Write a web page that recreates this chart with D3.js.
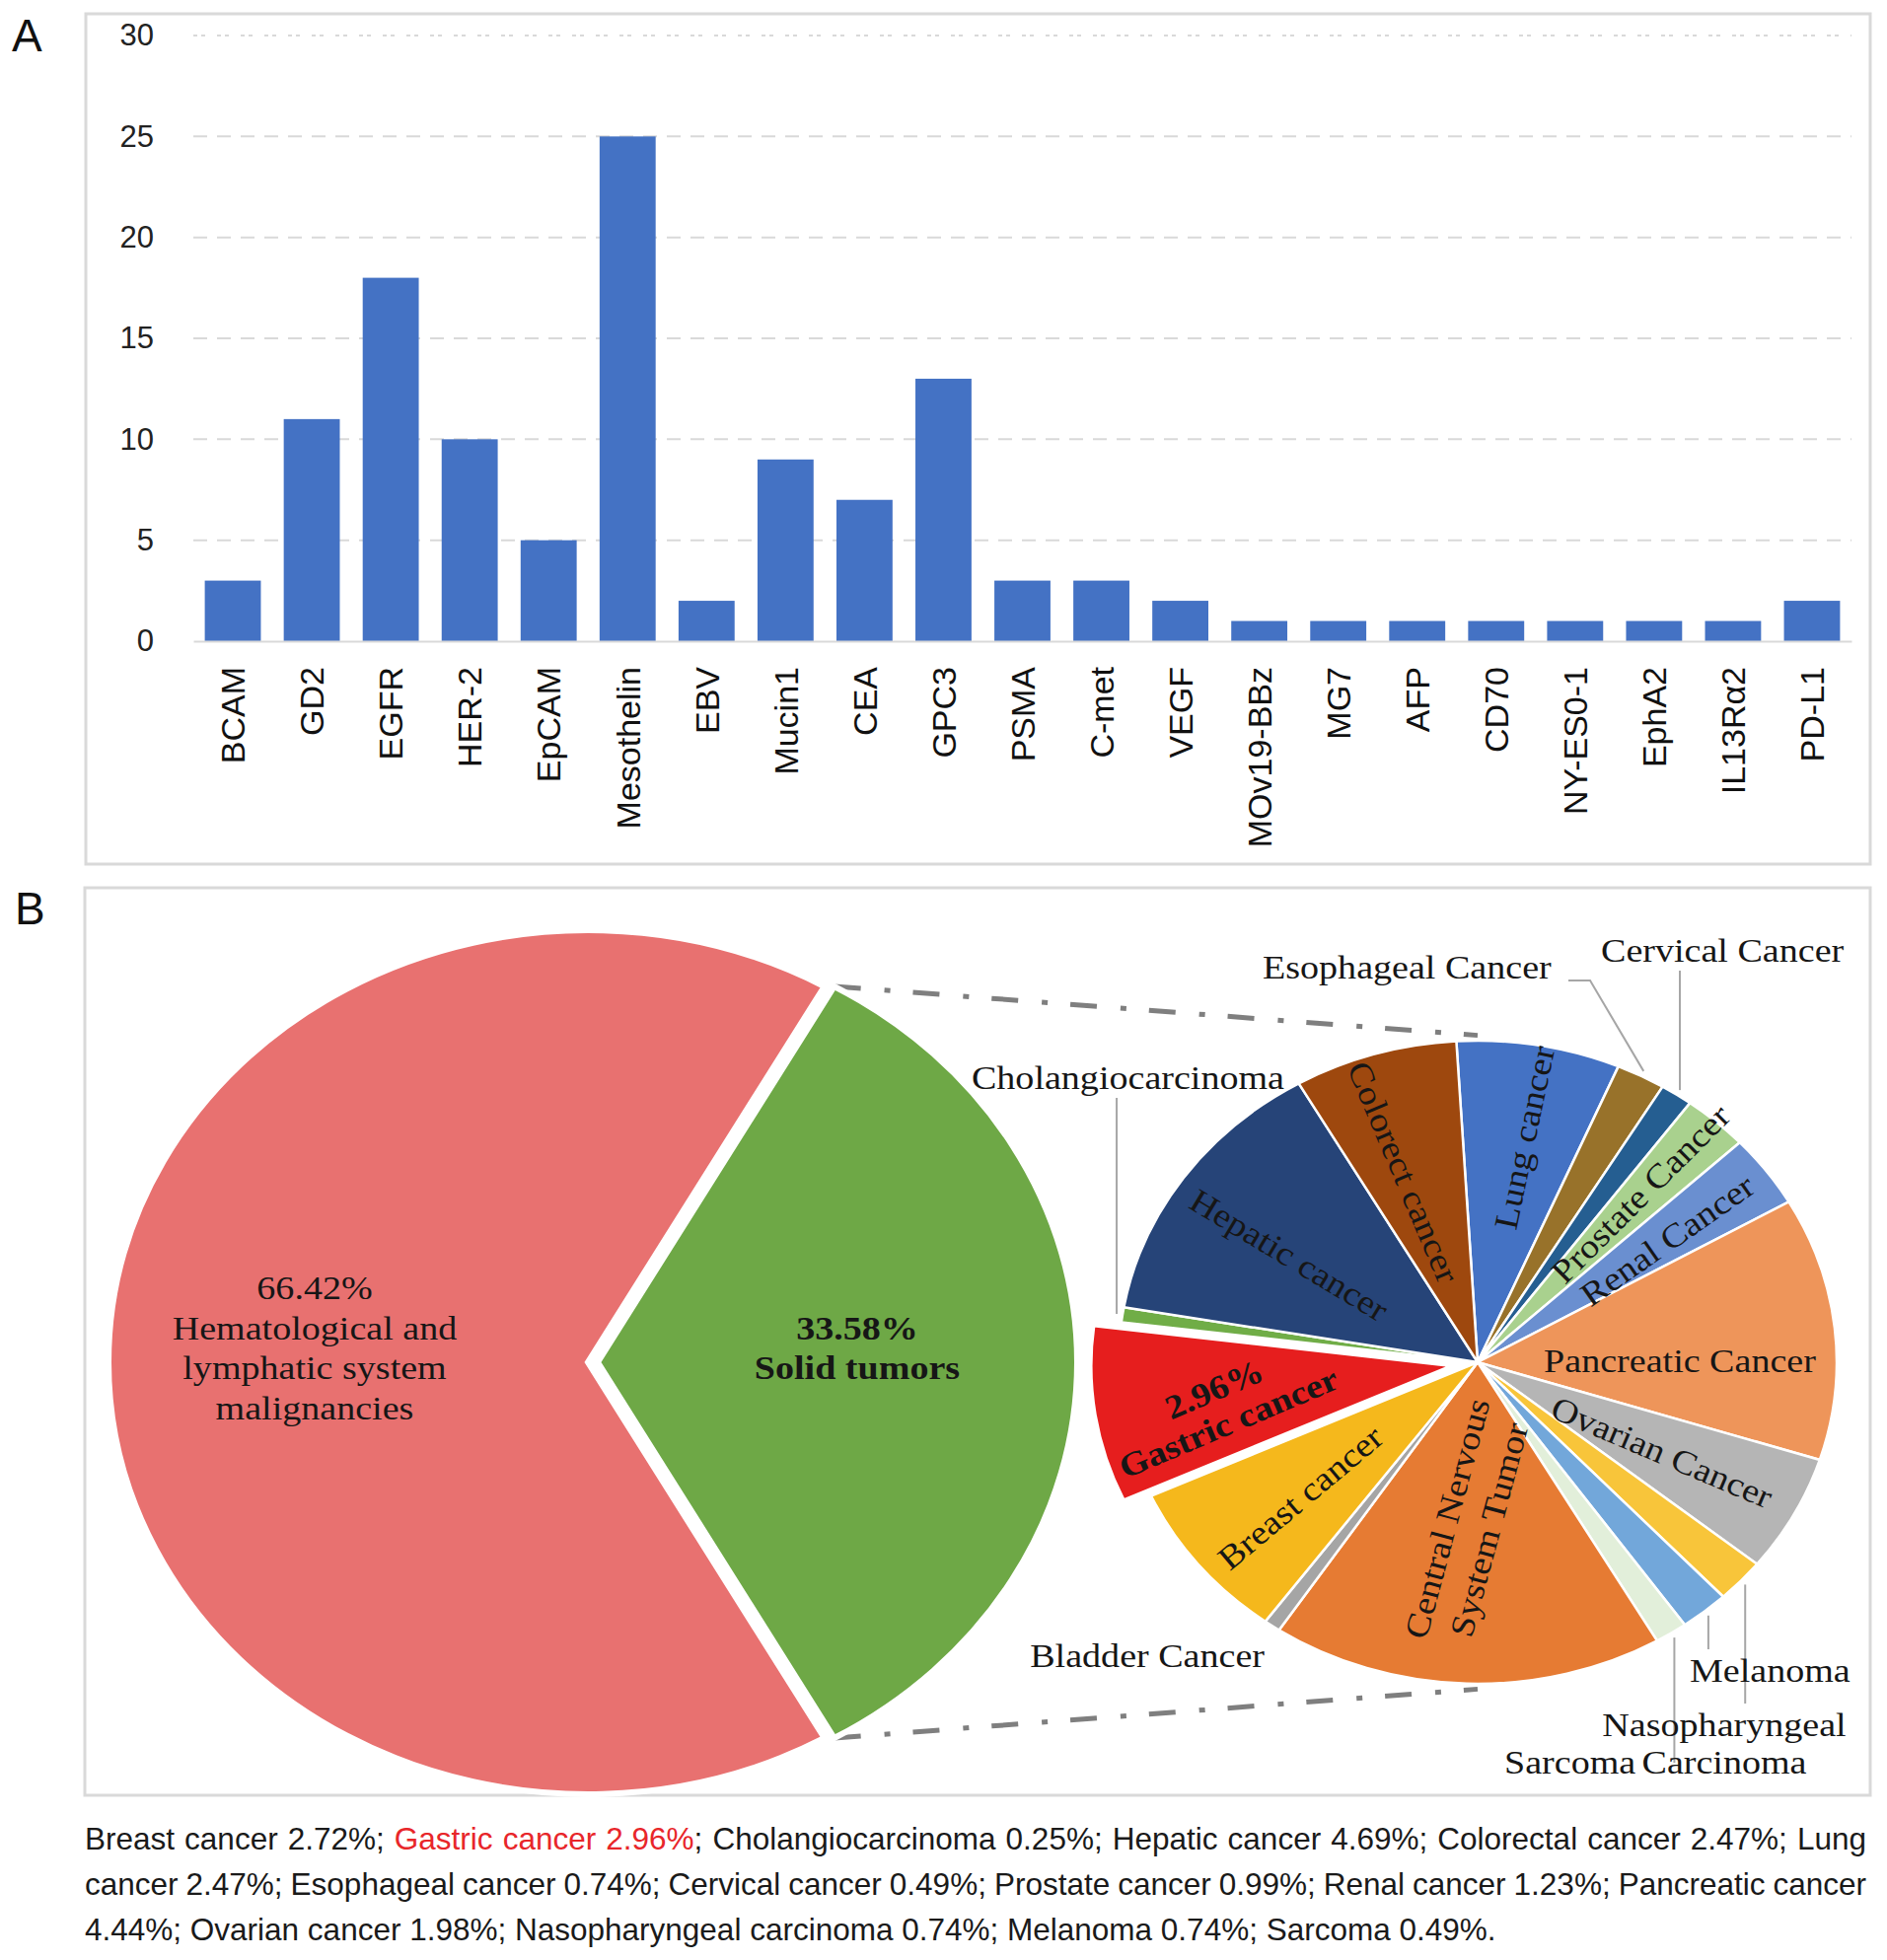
<!DOCTYPE html>
<html>
<head>
<meta charset="utf-8">
<script src="https://cdn.jsdelivr.net/npm/d3@7"></script>
<style>
  body { margin: 0; background: #fff; }
</style>
</head>
<body>
<div id="viz"></div>
<script>
// ---- Panel A: number of trials per target antigen
const targets = ["BCAM", "GD2", "EGFR", "HER-2", "EpCAM", "Mesothelin", "EBV", "Mucin1", "CEA", "GPC3",
    "PSMA", "C-met", "VEGF", "MOv19-BBz", "MG7", "AFP", "CD70", "NY-ES0-1", "EphA2", "IL13Rα2", "PD-L1"];
const trialCounts = [3, 11, 18, 10, 5, 25, 2, 9, 7, 13, 3, 3, 2, 1, 1, 1, 1, 1, 1, 1, 2];
const yTickValues = [0, 5, 10, 15, 20, 25, 30];

// ---- Panel B: share of trials (%)
const groupNames = ["Hematological and lymphatic system malignancies", "Solid tumors"];
const groupShares = [66.42, 33.58];

const solidNames = ["Lung cancer", "Esophageal Cancer", "Cervical Cancer", "Prostate Cancer", "Renal Cancer",
    "Pancreatic Cancer", "Ovarian Cancer", "Nasopharyngeal Carcinoma", "Melanoma", "Sarcoma",
    "Central Nervous System Tumor", "Bladder Cancer", "Breast cancer", "Gastric cancer",
    "Cholangiocarcinoma", "Hepatic cancer", "Colorect cancer"];
const solidShares = [2.47, 0.74, 0.49, 0.99, 1.23, 4.44, 1.98, 0.74, 0.74, 0.49, 5.93, 0.25, 2.72, 2.96, 0.25, 4.69, 2.47];

const captionLines = [
    "Breast cancer 2.72%; Gastric cancer 2.96%; Cholangiocarcinoma 0.25%; Hepatic cancer 4.69%; Colorectal cancer 2.47%; Lung",
    "cancer 2.47%; Esophageal cancer 0.74%; Cervical cancer 0.49%; Prostate cancer 0.99%; Renal cancer 1.23%; Pancreatic cancer",
    "4.44%; Ovarian cancer 1.98%; Nasopharyngeal carcinoma 0.74%; Melanoma 0.74%; Sarcoma 0.49%."
];
const captionHighlight = "Gastric cancer 2.96%";

const sansFont = "'Liberation Sans', Arial, Helvetica, sans-serif";
const serifFont = "'Liberation Serif', 'Times New Roman', serif";
const deg = Math.PI / 180;

const svg = d3.select("#viz")
    .append("svg")
        .attr("width", 1913)
        .attr("height", 1987);

// panel frames + letters
svg.append("rect")
    .attr("x", 87).attr("y", 14).attr("width", 1809).attr("height", 862)
    .attr("fill", "none").attr("stroke", "#d9d9d9").attr("stroke-width", 3);
svg.append("rect")
    .attr("x", 86).attr("y", 900).attr("width", 1810).attr("height", 920)
    .attr("fill", "none").attr("stroke", "#d9d9d9").attr("stroke-width", 3);
svg.selectAll("text.panel")
    .data([["A", 12, 52], ["B", 15, 937]])
    .join("text")
        .attr("class", "panel")
        .attr("x", d => d[1]).attr("y", d => d[2])
        .style("font-family", sansFont).style("font-size", "46px").style("fill", "#111")
        .text(d => d[0]);

// ================= Panel A =================
const x = d3.scaleBand()
    .domain(targets)
    .range([196, 1877])
    .paddingInner(0.29)
    .paddingOuter(0.145);
const y = d3.scaleLinear()
    .domain([0, 30])
    .range([650, 36]);

const gA = svg.append("g");

// gridlines (top one is dotted)
gA.selectAll("line.grid")
    .data(yTickValues.filter(d => d > 0))
    .join("line")
        .attr("class", "grid")
        .attr("x1", 196).attr("x2", 1877)
        .attr("y1", d => y(d)).attr("y2", d => y(d))
        .attr("stroke", "#d9d9d9").attr("stroke-width", 2)
        .attr("stroke-dasharray", d => d === 30 ? "4,4,4,12" : "14,10");

gA.append("g")
    .attr("transform", "translate(196,0)")
    .call(d3.axisLeft(y).tickValues(yTickValues).tickSize(0).tickPadding(40))
    .call(g => g.select(".domain").remove())
    .attr("font-family", null).attr("font-size", null)
    .selectAll("text")
        .style("font-family", sansFont).style("font-size", "31px").style("fill", "#222");

gA.selectAll("rect.bar")
    .data(targets)
    .join("rect")
        .attr("class", "bar")
        .attr("x", d => x(d))
        .attr("width", x.bandwidth())
        .attr("y", (d, i) => y(trialCounts[i]))
        .attr("height", (d, i) => y(0) - y(trialCounts[i]))
        .attr("fill", "#4472c4");

const xAxisG = gA.append("g")
    .attr("transform", `translate(0,${y(0)})`)
    .call(d3.axisBottom(x).tickSize(0).tickSizeOuter(0))
    .attr("font-family", null).attr("font-size", null);
xAxisG.select(".domain").attr("stroke", "#d9d9d9").attr("stroke-width", 2);
xAxisG.selectAll("text")
    .attr("transform", "rotate(-90)")
    .attr("x", -26).attr("y", 0).attr("dy", "0.36em")
    .style("text-anchor", "end")
    .style("font-family", sansFont).style("font-size", "34px").style("fill", "#111");

// ================= Panel B =================
function ellipsePoint(c, rx, ry, a, extra) {
    extra = extra || 0;
    return [c.x + (rx + extra) * Math.sin(a), c.y - (ry + extra * ry / rx) * Math.cos(a)];
}
function explode(d, dist) {
    const mid = (d.startAngle + d.endAngle) / 2;
    return `translate(${dist * Math.sin(mid)},${-dist * Math.cos(mid)})`;
}
function wrapWords(s, maxChars) {
    const lines = [];
    let cur = "";
    s.split(" ").forEach(function(w) {
        const next = cur ? cur + " " + w : w;
        if (next.length > maxChars && cur) { lines.push(cur); cur = w; } else cur = next;
    });
    if (cur) lines.push(cur);
    return lines;
}

const gB = svg.append("g");
const lineLayer = gB.append("g");
const pieLayer = gB.append("g");
const labelLayer = gB.append("g");

function addLabel(px, py, lines, o) {
    const t = labelLayer.append("text")
        .attr("transform", `translate(${px},${py}) rotate(${o.rotate || 0}) scale(1.12,1)`)
        .attr("text-anchor", o.anchor || "middle")
        .style("font-family", serifFont)
        .style("font-size", (o.size || 34) + "px")
        .style("font-weight", o.bold ? "bold" : "normal")
        .style("fill", "#161616");
    const lh = o.lineHeight || 40;
    lines.forEach(function(s, i) {
        t.append("tspan")
            .attr("x", 0)
            .attr("y", o.baseline ? i * lh : (i - (lines.length - 1) / 2) * lh)
            .attr("dy", o.baseline ? 0 : "0.35em")
            .text(s);
    });
}

// left (overview) pie
const leftC = {x: 596, y: 1381}, leftR = 486, leftRy = 438;
const leftStart = Math.PI / 2 + groupShares[1] / 100 * Math.PI;
const groupPie = d3.pie().sort(null).startAngle(leftStart).endAngle(leftStart + 2 * Math.PI);
const groupArcs = groupPie(groupShares);
const groupColor = d3.scaleOrdinal().domain(groupNames).range(["#e87170", "#6ea846"]);
const leftArc = d3.arc().innerRadius(0).outerRadius(leftR);
const greenExplode = 10;

pieLayer.append("g")
    .attr("transform", `translate(${leftC.x},${leftC.y}) scale(1,${leftRy / leftR})`)
    .selectAll("path")
    .data(groupArcs)
    .join("path")
        .attr("d", leftArc)
        .attr("fill", (d, i) => groupColor(groupNames[i]))
        .attr("stroke", "#fff").attr("stroke-width", 6)
        .attr("vector-effect", "non-scaling-stroke")
        .attr("transform", (d, i) => i === 1 ? explode(d, greenExplode) : null);

const groupLabelLayout = [
    {x: 319, y: 1366, bold: false},
    {x: 869, y: 1366, bold: true}
];
groupNames.forEach(function(name, i) {
    const lay = groupLabelLayout[i];
    addLabel(lay.x, lay.y, [groupShares[i].toFixed(2) + "%"].concat(wrapWords(name, 17)),
        {bold: lay.bold, lineHeight: 40.5});
});

// right (solid tumor breakdown) pie
const rightC = {x: 1498, y: 1381}, rightR = 364, rightRy = 326;
const rightStart = -3.4 * deg;
const solidPie = d3.pie().sort(null).startAngle(rightStart).endAngle(rightStart + 2 * Math.PI);
const solidArcs = solidPie(solidShares);
const solidColor = d3.scaleOrdinal()
    .domain(solidNames)
    .range(["#4472c4", "#98722a", "#255e91", "#a9d18e", "#6a8fd0", "#ee955a", "#b5b5b5", "#f8c53a",
        "#72a7da", "#e2efda", "#e67b33", "#a5a5a5", "#f5b81c", "#e61e1e", "#70ad47", "#264478", "#9e480e"]);
const rightArc = d3.arc().innerRadius(0).outerRadius(rightR);

// dash-dot connectors from the solid tumour slice to the breakdown pie
const greenArc = groupArcs[1];
const gOff = [greenExplode, 0];
const topCorner = ellipsePoint({x: leftC.x + gOff[0], y: leftC.y}, leftR, leftRy, greenArc.startAngle);
const botCorner = ellipsePoint({x: leftC.x + gOff[0], y: leftC.y}, leftR, leftRy, greenArc.endAngle);
lineLayer.selectAll("line.connector")
    .data([[topCorner, ellipsePoint(rightC, rightR, rightRy, 0, 6)],
           [botCorner, ellipsePoint(rightC, rightR, rightRy, Math.PI, 6)]])
    .join("line")
        .attr("class", "connector")
        .attr("x1", d => d[0][0]).attr("y1", d => d[0][1])
        .attr("x2", d => d[1][0]).attr("y2", d => d[1][1])
        .attr("stroke", "#7f7f7f").attr("stroke-width", 5)
        .attr("stroke-dasharray", "27,24,6,23");

pieLayer.append("g")
    .attr("transform", `translate(${rightC.x},${rightC.y}) scale(1,${rightRy / rightR})`)
    .selectAll("path")
    .data(solidArcs)
    .join("path")
        .attr("d", rightArc)
        .attr("fill", (d, i) => solidColor(solidNames[i]))
        .attr("stroke", "#fff").attr("stroke-width", 2.5)
        .attr("vector-effect", "non-scaling-stroke")
        .attr("transform", (d, i) => solidNames[i] === "Gastric cancer" ? explode(d, 28) : null);

// label placement for the breakdown pie (inside = centred, outside = baseline + leader)
const solidLabelLayout = {
    "Lung cancer": {x: 1545, y: 1153, rotate: -78},
    "Esophageal Cancer": {x: 1280, y: 992, anchor: "start", baseline: true, leader: [[1612, 994], [1590, 994]]},
    "Cervical Cancer": {x: 1623, y: 975, anchor: "start", baseline: true, leaderY: 984},
    "Prostate Cancer": {x: 1663, y: 1210, rotate: -45},
    "Renal Cancer": {x: 1690, y: 1257, rotate: -35},
    "Pancreatic Cancer": {x: 1703, y: 1379},
    "Ovarian Cancer": {x: 1685, y: 1472, rotate: 23},
    "Nasopharyngeal Carcinoma": {x: 1748, y: 1760, baseline: true, wrap: 15, lineHeight: 38, leaderY: 1727},
    "Melanoma": {x: 1713, y: 1705, anchor: "start", baseline: true, leaderY: 1672},
    "Sarcoma": {x: 1525, y: 1798, anchor: "start", baseline: true, leaderY: 1787},
    "Central Nervous System Tumor": {x: 1488, y: 1545, rotate: -75, wrap: 15, lineHeight: 44},
    "Bladder Cancer": {x: 1282, y: 1690, anchor: "end", baseline: true},
    "Breast cancer": {x: 1318, y: 1518, rotate: -40},
    "Gastric cancer": {x: 1238, y: 1425, rotate: -23, bold: true, showShare: true, lineHeight: 37},
    "Cholangiocarcinoma": {x: 1302, y: 1104, anchor: "end", baseline: true, leaderY: 1113},
    "Hepatic cancer": {x: 1307, y: 1272, rotate: 31},
    "Colorect cancer": {x: 1423, y: 1188, rotate: 67}
};

solidArcs.forEach(function(d, i) {
    const name = solidNames[i];
    const lay = solidLabelLayout[name];
    const mid = (d.startAngle + d.endAngle) / 2;
    if (lay.leader || lay.leaderY) {
        const p = ellipsePoint(rightC, rightR, rightRy, mid, 6);
        const pts = [p].concat(lay.leader ? lay.leader : [[p[0], lay.leaderY]]);
        lineLayer.append("path")
            .attr("d", d3.line()(pts))
            .attr("fill", "none").attr("stroke", "#a6a6a6").attr("stroke-width", 2);
    }
    let lines = lay.wrap ? wrapWords(name, lay.wrap) : [name];
    if (lay.showShare) lines = [solidShares[i].toFixed(2) + "%"].concat(lines);
    addLabel(lay.x, lay.y, lines, lay);
});

// ---- caption
const caption = svg.append("g")
    .style("font-family", sansFont).style("font-size", "31.5px").style("fill", "#1a1a1a");
const captionWidth = 1806;
captionLines.forEach(function(line, i) {
    const t = caption.append("text").attr("x", 86).attr("y", 1875 + i * 46);
    const parts = line.split(captionHighlight);
    parts.forEach(function(p, j) {
        t.append("tspan").text(p);
        if (j < parts.length - 1) t.append("tspan").style("fill", "#e8262a").text(captionHighlight);
    });
    if (i < captionLines.length - 1) {
        const spaces = line.split(" ").length - 1;
        const gap = (captionWidth - t.node().getComputedTextLength()) / spaces;
        t.style("word-spacing", gap + "px");
    }
});
</script>
</body>
</html>
